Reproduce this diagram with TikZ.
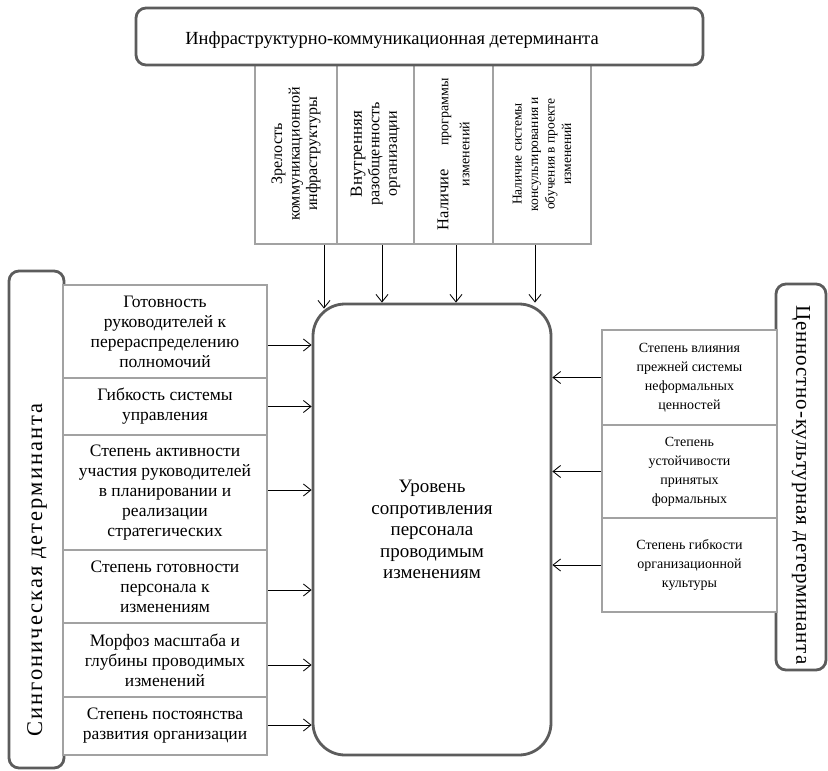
\documentclass[tikz,border=0pt]{standalone}
\usepackage{fontspec}
\setmainfont{Liberation Serif}
\newfontfamily\spacedf[LetterSpace=9]{Liberation Serif}
\newfontfamily\spacedr[LetterSpace=4]{Liberation Serif}
\usetikzlibrary{arrows.meta}
\definecolor{darkb}{HTML}{5C5C5C}
\definecolor{lightb}{HTML}{A2A2A2}
\begin{document}
\begin{tikzpicture}[x=1pt,y=-1pt,
  bigbox/.style={draw=darkb, line width=2.8pt, rounded corners=10pt, fill=white, inner sep=0pt},
  fbox/.style={draw=lightb, line width=2.4pt, fill=white, inner sep=0pt, align=center},
  lfont/.style={font=\fontsize{17.5}{20}\selectfont},
  rfont/.style={font=\fontsize{14}{19}\selectfont},
  vtext/.style={rotate=90, align=center, inner sep=0pt, font=\fontsize{16}{17.5}\selectfont},
  arr/.style={-{Straight Barb[length=7.5pt,width=12pt]}, line width=0.85pt, draw=black}]
\useasboundingbox (0,0) rectangle (828,771);

% top factor boxes
\node[fbox, minimum width=82pt, minimum height=180pt] (t1) at (296,154) {};
\node[fbox, minimum width=77pt, minimum height=180pt] (t2) at (375.5,154) {};
\node[fbox, minimum width=79pt, minimum height=180pt] (t3) at (453.5,154) {};
\node[fbox, minimum width=98pt, minimum height=180pt] (t4) at (542,154) {};
\node[vtext] (t1txt) at (t1.center) {Зрелость\\коммуникационной\\инфраструктуры};
\node[vtext] (t2txt) at (t2.center) {{\fontsize{17}{17}\selectfont Внутренняя}\\разобщенность\\организации};
\node[vtext, font=\fontsize{14}{21}\selectfont] (t3txt) at (t3.center) {\parbox{152pt}{\centering{\fontsize{16.5}{17}\selectfont Наличие}\hfill программы\\изменений}};
\node[vtext, font=\fontsize{13.5}{16.5}\selectfont] (t4txt) at (t4.center) {Наличие системы\\консультирования и\\обучения в проекте\\изменений};

% top determinant
\node[bigbox, minimum width=567pt, minimum height=57pt] (top) at (419.5,36.5) {};
\node[font=\fontsize{18.5}{20}\selectfont, inner sep=0pt] (toptxt) at (392,40) {Инфраструктурно-коммуникационная детерминанта};

% left determinant
\node[bigbox, minimum width=55pt, minimum height=497pt] (left) at (36.5,519.5) {};
\node[rotate=90, font=\fontsize{22.5}{24}\spacedf, inner sep=0pt] (lefttxt) at (37,570) {Сингоническая детерминанта};
\node[fbox, lfont, minimum width=204pt, minimum height=93pt] (l1) at (165,331.5) {Готовность\\руководителей к\\перераспределению\\полномочий};
\node[fbox, lfont, minimum width=204pt, minimum height=57pt] (l2) at (165,406.5) {Гибкость системы\\управления};
\node[fbox, lfont, minimum width=204pt, minimum height=115pt] (l3) at (165,492.5) {Степень активности\\участия руководителей\\в планировании и\\реализации\\стратегических};
\node[fbox, lfont, minimum width=204pt, minimum height=73pt] (l4) at (165,586.5) {Степень готовности\\персонала к\\изменениям};
\node[fbox, lfont, minimum width=204pt, minimum height=74pt] (l5) at (165,660) {Морфоз масштаба и\\глубины проводимых\\изменений};
\node[fbox, lfont, minimum width=204pt, minimum height=58pt] (l6) at (165,726) {Степень постоянства\\развития организации};

% right determinant
\node[bigbox, minimum width=50pt, minimum height=386pt] (right) at (801,477) {};
\node[rotate=-90, font=\fontsize{21}{22}\spacedr, inner sep=0pt] (righttxt) at (801,485) {Ценностно-культурная детерминанта};
\node[fbox, rfont, minimum width=175pt, minimum height=95pt] (r1) at (689.5,377.5) {Степень влияния\\прежней системы\\неформальных\\ценностей};
\node[fbox, rfont, minimum width=175pt, minimum height=93pt] (r2) at (689.5,471.5) {Степень\\устойчивости\\принятых\\формальных};
\node[fbox, rfont, minimum width=175pt, minimum height=94pt] (r3) at (689.5,565) {Степень гибкости\\организационной\\культуры};

% centre
\node[bigbox, rounded corners=32pt, minimum width=238pt, minimum height=451pt, align=center, font=\fontsize{19}{21.5}\selectfont] (c) at (432,529.5) {Уровень\\сопротивления\\персонала\\проводимым\\изменениям};

% arrows from top
\draw[arr] ([xshift=28pt]t1.south) -- ([xshift=28pt,yshift=-6pt]t1.south |- c.north);
\draw[arr] ([xshift=6.5pt]t2.south) -- ([xshift=6.5pt]t2.south |- c.north);
\draw[arr] ([xshift=2.5pt]t3.south) -- ([xshift=2.5pt]t3.south |- c.north);
\draw[arr] ([xshift=-7pt]t4.south) -- ([xshift=-7pt]t4.south |- c.north);

% arrows from left
\draw[arr] ([yshift=-13.5pt]l1.east) -- ([yshift=-13.5pt]l1.east -| c.west);
\draw[arr] (l2.east) -- (l2.east -| c.west);
\draw[arr] ([yshift=2.5pt]l3.east) -- ([yshift=2.5pt]l3.east -| c.west);
\draw[arr] ([yshift=-3.5pt]l4.east) -- ([yshift=-3.5pt]l4.east -| c.west);
\draw[arr] ([yshift=-5pt]l5.east) -- ([yshift=-5pt]l5.east -| c.west);
\draw[arr] ([yshift=1pt]l6.east) -- ([yshift=1pt]l6.east -| c.west);

% arrows from right
\draw[arr] (r1.west) -- (r1.west -| c.east);
\draw[arr] (r2.west) -- (r2.west -| c.east);
\draw[arr] (r3.west) -- (r3.west -| c.east);
\end{tikzpicture}
\end{document}
